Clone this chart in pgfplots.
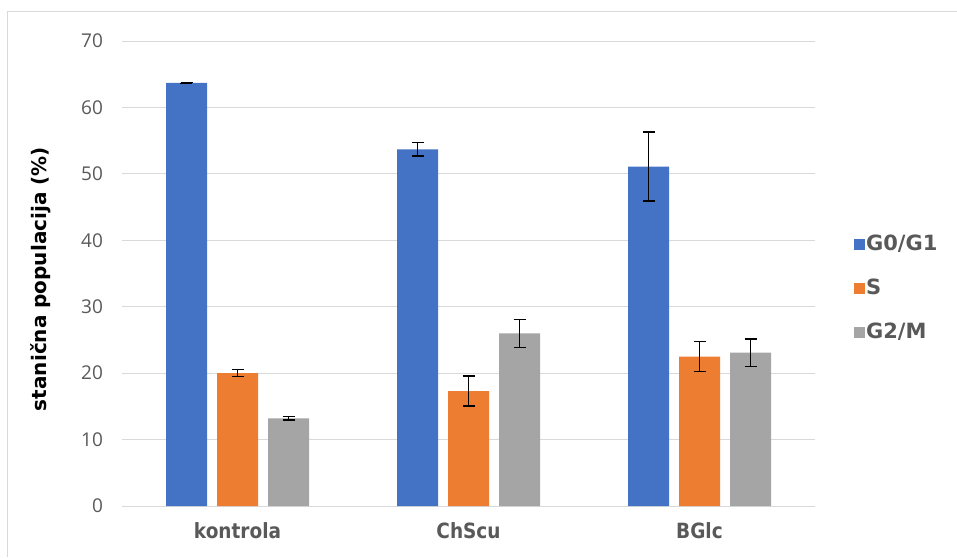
\documentclass[border=0pt]{standalone}
\usepackage{fontspec}
\setmainfont{DejaVu Sans}
\newfontfamily\tickfont{Open Sans}
\newfontfamily\catfont{DejaVu Sans}[FakeStretch=0.88]
\usepackage{pgfplots}
\usepackage{pgfplotstable}
\pgfplotsset{compat=1.18}
\definecolor{cblue}{HTML}{4472C4}
\definecolor{corange}{HTML}{ED7D31}
\definecolor{cgray}{HTML}{A5A5A5}
\definecolor{gridgray}{HTML}{D9D9D9}
\definecolor{labelgray}{HTML}{595959}

\pgfplotstableread{
x y e
0 63.7 0.1
1 53.7 1.0
2 51.1 5.2
}\gzero
\pgfplotstableread{
x y e
0 20.0 0.5
1 17.3 2.25
2 22.5 2.25
}\sphase
\pgfplotstableread{
x y e
0 13.2 0.25
1 26.0 2.1
2 23.1 2.05
}\gtwo

\begin{document}
\begin{tikzpicture}
\path[use as bounding box] (-122pt,-51pt) rectangle (835pt,506pt);
\begin{axis}[
  at={(0pt,0pt)}, anchor=south west,
  scale only axis, width=693pt, height=465pt,
  ymin=0, ymax=70, ytick={0,10,...,70},
  xmin=-0.5, xmax=2.5, xtick={0,1,2},
  xticklabels={kontrola,ChScu,BGlc},
  ymajorgrids, grid style={color=gridgray, line width=1pt},
  axis line style={draw=none},
  major tick length=0pt,
  /pgf/number format/assume math mode=true,
  yticklabel style={font=\tickfont\fontsize{19}{22}\selectfont, text=labelgray, xshift=-15.5pt},
  xticklabel style={font=\catfont\bfseries\fontsize{21}{25}\selectfont, text=labelgray, yshift=-13pt},
  ylabel={stanična populacija (\%)},
  every axis y label/.style={at={(axis description cs:-0.117,0.488)}, rotate=90, anchor=center, font=\bfseries\fontsize{20}{24}\selectfont, text=black},
  ybar, bar width=41pt,
  legend image code/.code={\draw[#1,draw=none] (0pt,-5.5pt) rectangle (11pt,5.5pt);},
  legend style={at={(rel axis cs:1.0563,0.4677)}, anchor=west, draw=none, fill=none,
    inner sep=0pt, outer sep=0pt, row sep=22pt,
    font=\bfseries\fontsize{21}{25}\selectfont, text=labelgray,
    nodes={text height=16pt, text depth=4pt, inner sep=1pt},
    /tikz/every even column/.append style={column sep=6pt}},
  legend cell align=left,
]
\addplot[bar shift=-51pt, fill=cblue, draw=none,
  error bars/.cd, y dir=both, y explicit,
  error bar style={line width=1.3pt, black},
  error mark options={rotate=90, mark size=6pt, line width=1.3pt, black}]
  table[x=x, y=y, y error=e] {\gzero};
\addplot[bar shift=0pt, fill=corange, draw=none,
  error bars/.cd, y dir=both, y explicit,
  error bar style={line width=1.3pt, black},
  error mark options={rotate=90, mark size=6pt, line width=1.3pt, black}]
  table[x=x, y=y, y error=e] {\sphase};
\addplot[bar shift=51pt, fill=cgray, draw=none,
  error bars/.cd, y dir=both, y explicit,
  error bar style={line width=1.3pt, black},
  error mark options={rotate=90, mark size=6pt, line width=1.3pt, black}]
  table[x=x, y=y, y error=e] {\gtwo};
\legend{G0/G1, S, G2/M}
\end{axis}
\draw[gridgray, line width=1pt] (-114pt,-51pt) -- (-114pt,494pt) -- (835pt,494pt);
\end{tikzpicture}
\end{document}
